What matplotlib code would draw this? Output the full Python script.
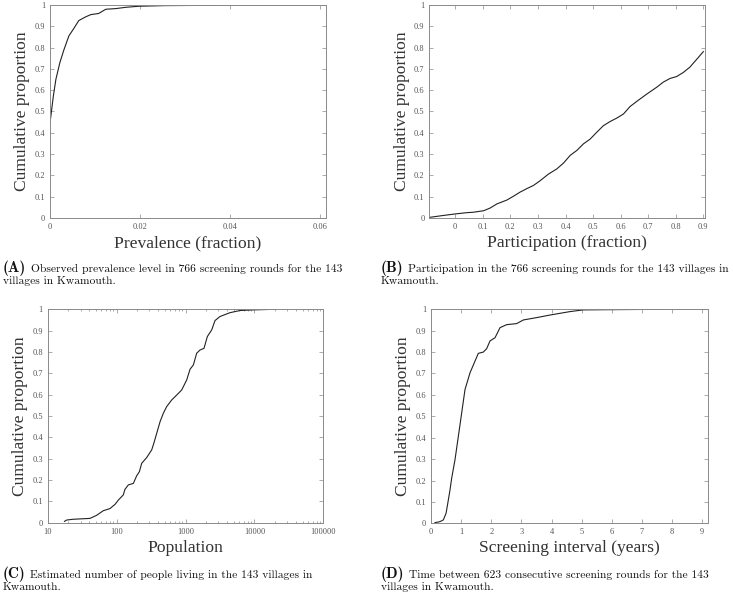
import numpy as np
from matplotlib import pyplot as plt
from matplotlib.ticker import FixedLocator, FixedFormatter, LogLocator, NullFormatter

# (A) prevalence ECDF
prev_x = [0.0, 0.00073, 0.0013, 0.0022, 0.0031, 0.0042, 0.0053, 0.0064, 0.008, 0.0091,
          0.0108, 0.0124, 0.0146, 0.0168, 0.0197, 0.0255, 0.040, 0.059, 0.0613]
prev_y = [0.445, 0.57, 0.65, 0.73, 0.79, 0.855, 0.89, 0.927, 0.945, 0.955,
          0.96, 0.98, 0.983, 0.989, 0.994, 0.997, 0.999, 1.0, 1.0]

# (B) participation ECDF
part_x = [-0.093, -0.048, 0.0, 0.042, 0.066, 0.103, 0.127, 0.151, 0.187, 0.211, 0.236,
          0.26, 0.284, 0.308, 0.338, 0.368, 0.393, 0.417, 0.441, 0.465, 0.489, 0.513,
          0.537, 0.562, 0.586, 0.61, 0.634, 0.658, 0.694, 0.731, 0.755, 0.779, 0.803,
          0.827, 0.851, 0.876, 0.9]
part_y = [0.003, 0.011, 0.019, 0.025, 0.027, 0.034, 0.047, 0.066, 0.084, 0.102, 0.122,
          0.138, 0.153, 0.175, 0.206, 0.23, 0.258, 0.294, 0.317, 0.348, 0.37, 0.402,
          0.433, 0.453, 0.469, 0.488, 0.523, 0.547, 0.581, 0.614, 0.638, 0.655, 0.664,
          0.683, 0.708, 0.745, 0.781]

# (C) village population ECDF
pop_x = [17.5, 18.9, 23.5, 41, 51, 64, 80, 95, 106, 125, 132, 148, 175, 195, 214, 231,
         273, 323, 349, 382, 427, 477, 533, 630, 745, 881, 1041, 1163, 1300, 1452, 1623,
         1855, 2073, 2397, 2680, 3167, 4424, 6180, 9600, 21000]
pop_y = [0.006, 0.0125, 0.016, 0.02, 0.034, 0.056, 0.066, 0.086, 0.106, 0.13, 0.156,
         0.177, 0.184, 0.219, 0.239, 0.278, 0.305, 0.341, 0.375, 0.419, 0.473, 0.513,
         0.544, 0.575, 0.598, 0.622, 0.669, 0.719, 0.739, 0.794, 0.809, 0.817, 0.872,
         0.903, 0.947, 0.966, 0.984, 0.994, 0.997, 1.0]

# (D) screening interval ECDF
int_x = [0.13, 0.3, 0.41, 0.5, 0.575, 0.63, 0.686, 0.796, 0.907, 1.018, 1.128, 1.294,
         1.46, 1.57, 1.737, 1.847, 1.958, 2.124, 2.29, 2.51, 2.843, 3.064, 3.507, 3.95,
         4.61, 5.055, 5.94, 7.93, 9.2]
int_y = [0.003, 0.008, 0.016, 0.047, 0.109, 0.156, 0.211, 0.297, 0.406, 0.516, 0.625,
         0.703, 0.758, 0.794, 0.8, 0.816, 0.852, 0.867, 0.914, 0.928, 0.933, 0.95, 0.961,
         0.973, 0.989, 0.997, 0.998, 1.0, 1.0]

yticks = [0, 0.1, 0.2, 0.3, 0.4, 0.5, 0.6, 0.7, 0.8, 0.9, 1]
ytick_labels = ['0', '0.1', '0.2', '0.3', '0.4', '0.5', '0.6', '0.7', '0.8', '0.9', '1']

cap_tags = ['(A)', '(B)', '(C)', '(D)']
cap_line1 = ['Observed prevalence level in 766 screening rounds for the 143',
             'Participation in the 766 screening rounds for the 143 villages in',
             'Estimated number of people living in the 143 villages in',
             'Time between 623 consecutive screening rounds for the 143']
cap_line2 = ['villages in Kwamouth.', 'Kwamouth.', 'Kwamouth.', 'villages in Kwamouth.']

serif = ['Liberation Serif', 'DejaVu Serif']
W, H = 733, 593
fig = plt.figure(figsize=(W / 100, H / 100), dpi=100)

rects = [[0.0682, 0.6324, 0.3765, 0.3592],
         [0.5857, 0.6324, 0.3761, 0.3592],
         [0.0651, 0.1186, 0.3760, 0.3599],
         [0.5880, 0.1175, 0.3783, 0.3610]]
axes = [fig.add_axes(r) for r in rects]


def style(ax, xlabel):
    for s in ax.spines.values():
        s.set_color('#8a8a8a')
        s.set_linewidth(0.7)
    ax.tick_params(which='both', direction='in', top=True, right=True,
                   color='#8a8a8a', labelcolor='#555555', labelsize=6, length=3, width=0.5)
    ax.tick_params(which='minor', length=1.5)
    ax.set_ylim(0, 1)
    ax.yaxis.set_major_locator(FixedLocator(yticks))
    ax.yaxis.set_major_formatter(FixedFormatter(ytick_labels))
    ax.set_ylabel('Cumulative proportion', family=serif, fontsize=12.6, color='#333333', labelpad=3)
    ax.set_xlabel(xlabel, family=serif, fontsize=12.6, color='#333333', labelpad=3)
    for lab in ax.get_xticklabels() + ax.get_yticklabels():
        lab.set_family(serif)


ax = axes[0]
ax.plot(prev_x, prev_y, color='#222222', lw=0.8)
ax.set_xlim(0, 0.0613)
ax.set_xticks([0, 0.02, 0.04, 0.06])
ax.set_xticklabels(['0', '0.02', '0.04', '0.06'])
style(ax, 'Prevalence (fraction)')

ax = axes[1]
ax.plot(part_x, part_y, color='#222222', lw=0.8)
ax.set_xlim(-0.094, 0.906)
pt = [0, 0.1, 0.2, 0.3, 0.4, 0.5, 0.6, 0.7, 0.8, 0.9]
ax.set_xticks(pt)
ax.set_xticklabels(['0', '0.1', '0.2', '0.3', '0.4', '0.5', '0.6', '0.7', '0.8', '0.9'])
style(ax, 'Participation (fraction)')

ax = axes[2]
ax.plot(pop_x, pop_y, color='#222222', lw=0.8)
ax.set_xscale('log')
ax.set_xlim(10, 100000)
ax.set_xticks([10, 100, 1000, 10000, 100000])
ax.set_xticklabels(['10', '100', '1000', '10000', '100000'])
ax.xaxis.set_minor_locator(LogLocator(subs=np.arange(2, 10)))
ax.xaxis.set_minor_formatter(NullFormatter())
style(ax, 'Population')

ax = axes[3]
ax.plot(int_x, int_y, color='#222222', lw=0.8)
ax.set_xlim(0, 9.2)
ax.set_xticks(range(10))
ax.set_xticklabels([str(i) for i in range(10)])
style(ax, 'Screening interval (years)')

# caption anchors in pixels: left edge, baseline of first line
cap_pos = [(3, 272), (381, 272), (3, 578), (381, 578)]
renderer = fig.canvas.get_renderer()
for tag, l1, l2, (px, py) in zip(cap_tags, cap_line1, cap_line2, cap_pos):
    t = fig.text(px / W, 1 - py / H, tag, family=['cmb10', 'DejaVu Serif'], fontsize=11,
                 va='baseline', ha='left', color='#111111')
    x1 = t.get_window_extent(renderer).x1
    fig.text((x1 + 4.5) / W, 1 - py / H, l1, family=['cmr10', 'DejaVu Serif'], fontsize=8.3,
             va='baseline', ha='left', color='#111111')
    fig.text(px / W, 1 - (py + 12.5) / H, l2, family=['cmr10', 'DejaVu Serif'], fontsize=8.3,
             va='baseline', ha='left', color='#111111')

fig.savefig('out.png', dpi=100)
